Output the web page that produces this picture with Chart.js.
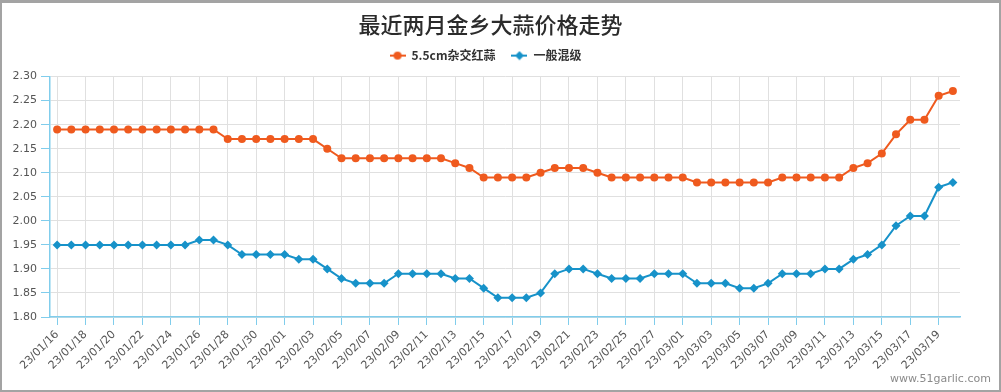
<!DOCTYPE html>
<html>
<head>
<meta charset="utf-8">
<script src="https://cdn.jsdelivr.net/npm/chart.js@4.4.1/dist/chart.umd.min.js"></script>
<style>
  html, body { margin: 0; padding: 0; background: #fff; }
  #wrap { position: relative; width: 1001px; height: 392px; }
  #priceChart { position: absolute; left: 0; top: 0; }
  #frame { position: absolute; left: 0; top: 0; width: 1001px; height: 392px; box-sizing: border-box;
           border: 2px solid #a3a3a3; border-top-width: 3px; pointer-events: none; }
  #mark { position: absolute; left: 890px; top: 372px; font: 11px "DejaVu Sans", sans-serif; color: #8a8a8a; }
</style>
</head>
<body>
<div id="wrap">
  <canvas id="priceChart" width="1001" height="392"></canvas>
  <div id="frame"></div>
  <div id="mark">www.51garlic.com</div>
</div>
<script>
const dates = [
  "23/01/16","23/01/17","23/01/18","23/01/19","23/01/20","23/01/21","23/01/22","23/01/23",
  "23/01/24","23/01/25","23/01/26","23/01/27","23/01/28","23/01/29","23/01/30","23/01/31",
  "23/02/01","23/02/02","23/02/03","23/02/04","23/02/05","23/02/06","23/02/07","23/02/08",
  "23/02/09","23/02/10","23/02/11","23/02/12","23/02/13","23/02/14","23/02/15","23/02/16",
  "23/02/17","23/02/18","23/02/19","23/02/20","23/02/21","23/02/22","23/02/23","23/02/24",
  "23/02/25","23/02/26","23/02/27","23/02/28","23/03/01","23/03/02","23/03/03","23/03/04",
  "23/03/05","23/03/06","23/03/07","23/03/08","23/03/09","23/03/10","23/03/11","23/03/12",
  "23/03/13","23/03/14","23/03/15","23/03/16","23/03/17","23/03/18","23/03/19","23/03/20"
];

// 5.5cm杂交红蒜
const redGarlic = [
  2.19, 2.19, 2.19, 2.19, 2.19, 2.19, 2.19, 2.19, 2.19, 2.19, 2.19, 2.19,
  2.17, 2.17, 2.17, 2.17, 2.17, 2.17, 2.17, 2.15,
  2.13, 2.13, 2.13, 2.13, 2.13, 2.13, 2.13, 2.13, 2.12, 2.11,
  2.09, 2.09, 2.09, 2.09, 2.10, 2.11, 2.11, 2.11, 2.10,
  2.09, 2.09, 2.09, 2.09, 2.09, 2.09,
  2.08, 2.08, 2.08, 2.08, 2.08, 2.08,
  2.09, 2.09, 2.09, 2.09, 2.09,
  2.11, 2.12, 2.14, 2.18, 2.21, 2.21, 2.26, 2.27
];

// 一般混级
const mixedGrade = [
  1.95, 1.95, 1.95, 1.95, 1.95, 1.95, 1.95, 1.95, 1.95, 1.95, 1.96, 1.96,
  1.95, 1.93, 1.93, 1.93, 1.93, 1.92, 1.92, 1.90,
  1.88, 1.87, 1.87, 1.87, 1.89, 1.89, 1.89, 1.89, 1.88, 1.88,
  1.86, 1.84, 1.84, 1.84, 1.85, 1.89, 1.90, 1.90, 1.89,
  1.88, 1.88, 1.88, 1.89, 1.89, 1.89,
  1.87, 1.87, 1.87, 1.86, 1.86, 1.87,
  1.89, 1.89, 1.89, 1.90, 1.90,
  1.92, 1.93, 1.95, 1.99, 2.01, 2.01, 2.07, 2.08
];

const yTicks = ["1.80","1.85","1.90","1.95","2.00","2.05","2.10","2.15","2.20","2.25","2.30"];

const ORANGE = "#ef5a1e";
const BLUE = "#1792c9";
const AXIS = "#80cdec";
const GRID = "#e0e0e0";

// little line+marker icons for the legend
function legendIcon(color, style) {
  const c = document.createElement("canvas");
  c.width = 16; c.height = 10;
  const g = c.getContext("2d");
  g.strokeStyle = color; g.fillStyle = color; g.lineWidth = 2;
  g.beginPath(); g.moveTo(0, 5); g.lineTo(16, 5); g.stroke();
  g.beginPath();
  if (style === "circle") {
    g.arc(8, 5, 4, 0, Math.PI * 2);
  } else {
    g.moveTo(8, 0.5); g.lineTo(12.5, 5); g.lineTo(8, 9.5); g.lineTo(3.5, 5); g.closePath();
  }
  g.fill();
  return c;
}
const icons = [legendIcon(ORANGE, "circle"), legendIcon(BLUE, "diamond")];

// the original has title and legend sitting a little left of centre
const headerShift = {
  id: "headerShift",
  afterLayout(chart) {
    chart.titleBlock.left -= 10;
    chart.titleBlock.right -= 10;
    chart.legend.left -= 15;
    chart.legend.right -= 15;
  }
};

const ctx = document.getElementById("priceChart").getContext("2d");
new Chart(ctx, {
  type: "line",
  data: {
    labels: dates,
    datasets: [{
      label: "5.5cm杂交红蒜",
      data: redGarlic,
      borderColor: ORANGE,
      backgroundColor: ORANGE,
      borderWidth: 2,
      pointStyle: "circle",
      pointRadius: 4,
      pointBorderWidth: 0,
      tension: 0
    }, {
      label: "一般混级",
      data: mixedGrade,
      borderColor: BLUE,
      backgroundColor: BLUE,
      borderWidth: 2,
      pointStyle: "rectRot",
      pointRadius: 4.5,
      pointBorderWidth: 0,
      tension: 0
    }]
  },
  options: {
    responsive: false,
    animation: false,
    events: [],
    layout: { padding: 0 },
    plugins: {
      title: {
        display: true,
        text: "最近两月金乡大蒜价格走势",
        color: "#2b2b2b",
        font: { family: "'Noto Sans CJK SC'", size: 22, weight: 500, lineHeight: 0.8 },
        padding: { top: 16, bottom: 0 }
      },
      // empty spacer between legend and plot
      subtitle: {
        display: true,
        text: "",
        weight: 500,
        font: { size: 1, lineHeight: 1 },
        padding: { top: 4, bottom: 0 }
      },
      legend: {
        labels: {
          usePointStyle: true,
          pointStyleWidth: 16,
          padding: 16,
          color: "#333",
          font: { family: "'Noto Sans CJK SC'", size: 12, weight: "bold" },
          generateLabels(chart) {
            const items = Chart.defaults.plugins.legend.labels.generateLabels(chart);
            items.forEach((it, i) => { it.pointStyle = icons[i]; });
            return items;
          }
        }
      },
      tooltip: { enabled: false }
    },
    scales: {
      x: {
        offset: true,
        grid: { color: GRID, offset: false, tickColor: AXIS, tickLength: 8 },
        border: { color: AXIS, width: 1.5 },
        ticks: {
          autoSkip: false,
          minRotation: 45,
          maxRotation: 45,
          color: "#555",
          font: { family: "'DejaVu Sans'", size: 11 },
          callback: (v, i) => (i % 2 === 0 ? dates[i] : null)
        },
        afterFit: (scale) => { scale.height = 75; }
      },
      y: {
        min: 1.8,
        max: 2.3,
        grid: { color: GRID, tickColor: AXIS, tickLength: 9 },
        border: { color: AXIS, width: 1.5 },
        ticks: {
          stepSize: 0.05,
          padding: 4,
          color: "#555",
          font: { family: "'DejaVu Sans'", size: 11 },
          callback: (v, i) => yTicks[i]
        },
        afterFit: (scale) => { scale.width = 50; }
      },
      // blank right margin so the plot ends where the original does
      yRight: {
        position: "right",
        grid: { display: false },
        border: { display: false },
        ticks: { display: false },
        afterFit: (scale) => { scale.width = 41; }
      }
    }
  },
  plugins: [headerShift]
});
</script>
</body>
</html>
